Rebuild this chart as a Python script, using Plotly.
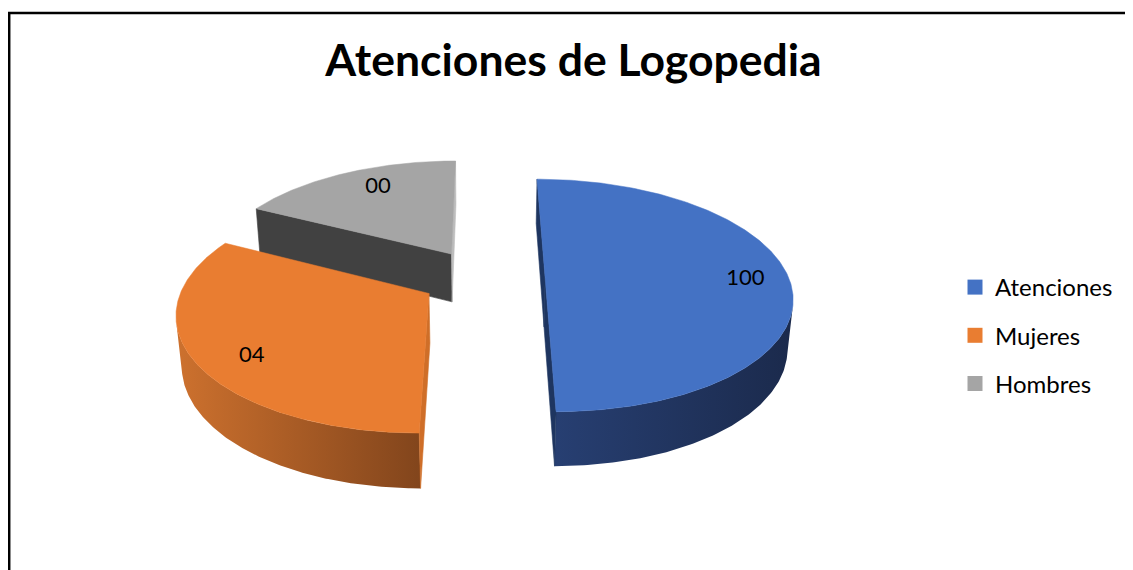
import numpy as np
import plotly.graph_objects as go

# ---------------- data ----------------
categories = ["Atenciones", "Mujeres", "Hombres"]
slice_values = [100, 65, 35]          # relative slice sizes as drawn
label_texts = ["100", "04", "00"]     # data labels as printed on the chart

# ---------------- style ----------------
top_colors = ["#4472C4", "#E97D31", "#A5A5A5"]
wall_gradients = [["#273F72", "#1B2A4C"], ["#CD712E", "#82451C"], ["#454545", "#3A3A3A"]]
radial_colors = ["#1E3560", "#CF6E28", "#414141"]
radial_colors_b = ["#1E3560", "#CF6E28", "#BDBDBD"]
label_radius = [0.82, 0.81, 0.77]       # label placement (fraction of radius)
label_turn_deg = [1.0, -6.0, 4.0]       # label placement (angle tweak)
FONT = "Lato"

# pseudo-3D camera settings (page pixel frame)
ELEV = np.radians(27.8)
DIST = 5.91
FOCAL = 1440.0
CX, CY = 483.0, 278.0
EXPLODE = 0.255
THICK = 0.231
START_DEG = 0.0

S, C = np.sin(ELEV), np.cos(ELEV)
CAM = np.array([0.0, -DIST * C, DIST * S])


def project(X, Y, Z):
    X = np.asarray(X, float); Y = np.asarray(Y, float); Z = np.asarray(Z, float)
    sy = Y * S + Z * C
    depth = DIST + Y * C - Z * S
    return CX + FOCAL * X / depth, CY - FOCAL * sy / depth


def visible(point, normal):
    return float(np.dot(np.asarray(normal), CAM - np.asarray(point))) > 0


fig = go.Figure()

total = float(sum(slice_values))
spans = [v / total * 2 * np.pi for v in slice_values]
starts = np.radians(START_DEG) + np.concatenate([[0], np.cumsum(spans)[:-1]])

slices = []
for i, (a0, sp) in enumerate(zip(starts, spans)):
    a1 = a0 + sp
    mid = (a0 + a1) / 2
    ox, oy = EXPLODE * np.sin(mid), EXPLODE * np.cos(mid)
    slices.append(dict(i=i, a0=a0, a1=a1, mid=mid, ox=ox, oy=oy))

# paint farthest slices first
order = sorted(slices, key=lambda d: -d["oy"])

for sl in order:
    i, a0, a1, ox, oy = sl["i"], sl["a0"], sl["a1"], sl["ox"], sl["oy"]
    th = np.linspace(a0, a1, 240)
    rx, ry = ox + np.sin(th), oy + np.cos(th)

    # outer curved wall (visible part only)
    vis = np.array([visible([x, y, -THICK / 2], [np.sin(t), np.cos(t), 0]) for x, y, t in zip(rx, ry, th)])
    if vis.any():
        idx = np.where(vis)[0]
        t_v = th[idx[0]: idx[-1] + 1]
        vx, vy = ox + np.sin(t_v), oy + np.cos(t_v)
        tx, ty = project(vx, vy, np.zeros_like(vx))
        bx, by = project(vx, vy, np.full_like(vx, -THICK))
        px = np.concatenate([tx, bx[::-1], tx[:1]])
        py = np.concatenate([ty, by[::-1], ty[:1]])
        fig.add_trace(go.Scatter(
            x=px, y=py, mode="lines", fill="toself", line=dict(width=0),
            fillcolor=wall_gradients[i][0],
            fillgradient=dict(type="horizontal",
                              colorscale=[[0, wall_gradients[i][0]], [1, wall_gradients[i][1]]]),
            hoverinfo="skip", showlegend=False))

    # radial walls
    for k, ang in enumerate([a0, a1]):
        normal = [-np.cos(ang), np.sin(ang), 0] if k == 0 else [np.cos(ang), -np.sin(ang), 0]
        ex, ey = ox + np.sin(ang), oy + np.cos(ang)
        midp = [(ox + ex) / 2, (oy + ey) / 2, -THICK / 2]
        if visible(midp, normal):
            X = [ox, ex, ex, ox, ox]
            Y = [oy, ey, ey, oy, oy]
            Z = [0, 0, -THICK, -THICK, 0]
            px, py = project(X, Y, Z)
            col = radial_colors[i] if k == 0 else radial_colors_b[i]
            fig.add_trace(go.Scatter(
                x=px, y=py, mode="lines", fill="toself", line=dict(width=0.6, color=col),
                fillcolor=col, hoverinfo="skip", showlegend=False))

    # top face
    X = np.concatenate([[ox], rx, [ox]])
    Y = np.concatenate([[oy], ry, [oy]])
    px, py = project(X, Y, np.zeros_like(X))
    fig.add_trace(go.Scatter(
        x=px, y=py, mode="lines", fill="toself", line=dict(width=0.5, color=top_colors[i]),
        fillcolor=top_colors[i], hoverinfo="skip", showlegend=False))

# data labels
lx, ly = [], []
for sl in slices:
    ang = sl["mid"] + np.radians(label_turn_deg[sl["i"]])
    r = label_radius[sl["i"]]
    X = sl["ox"] + r * np.sin(ang)
    Y = sl["oy"] + r * np.cos(ang)
    x, y = project(X, Y, 0.0)
    lx.append(float(x)); ly.append(float(y))
fig.add_trace(go.Scatter(
    x=lx, y=ly, mode="text", text=label_texts, textposition="middle center",
    textfont=dict(family=FONT, size=22, color="#000000"),
    hoverinfo="skip", showlegend=False))

# legend entries
for i, name in enumerate(categories):
    fig.add_trace(go.Scatter(
        x=[None], y=[None], mode="markers", name=name, legendgroup=name,
        marker=dict(symbol="square", size=15, color=top_colors[i]), hoverinfo="skip"))

W, H = 1133, 570
OFF = 8  # page offset of the figure inside the html body
fig.update_layout(
    width=W, height=H,
    margin=dict(l=0, r=0, t=0, b=0),
    paper_bgcolor="white", plot_bgcolor="white",
    xaxis=dict(range=[OFF, OFF + W], visible=False, fixedrange=True),
    yaxis=dict(range=[OFF + H, OFF], visible=False, fixedrange=True),
    title=dict(text="<b>Atenciones de Logopedia</b>", x=565.5 / W, xanchor="center",
               y=1 - 52.5 / H, yanchor="middle", yref="container",
               font=dict(family=FONT, size=44.5, color="#000000")),
    legend=dict(x=947 / W, xanchor="left", y=1 - 257 / H, yanchor="top",
                font=dict(family=FONT, size=24, color="#000000"),
                tracegroupgap=14, bgcolor="rgba(0,0,0,0)", borderwidth=0),
    shapes=[dict(type="rect", xref="paper", yref="paper",
                 x0=1.2 / W, x1=1.05, y0=-0.05, y1=1 - 5 / H,
                 line=dict(color="black", width=2.5), fillcolor="rgba(0,0,0,0)", layer="above")],
    showlegend=True,
)

fig.write_html("out.html")
